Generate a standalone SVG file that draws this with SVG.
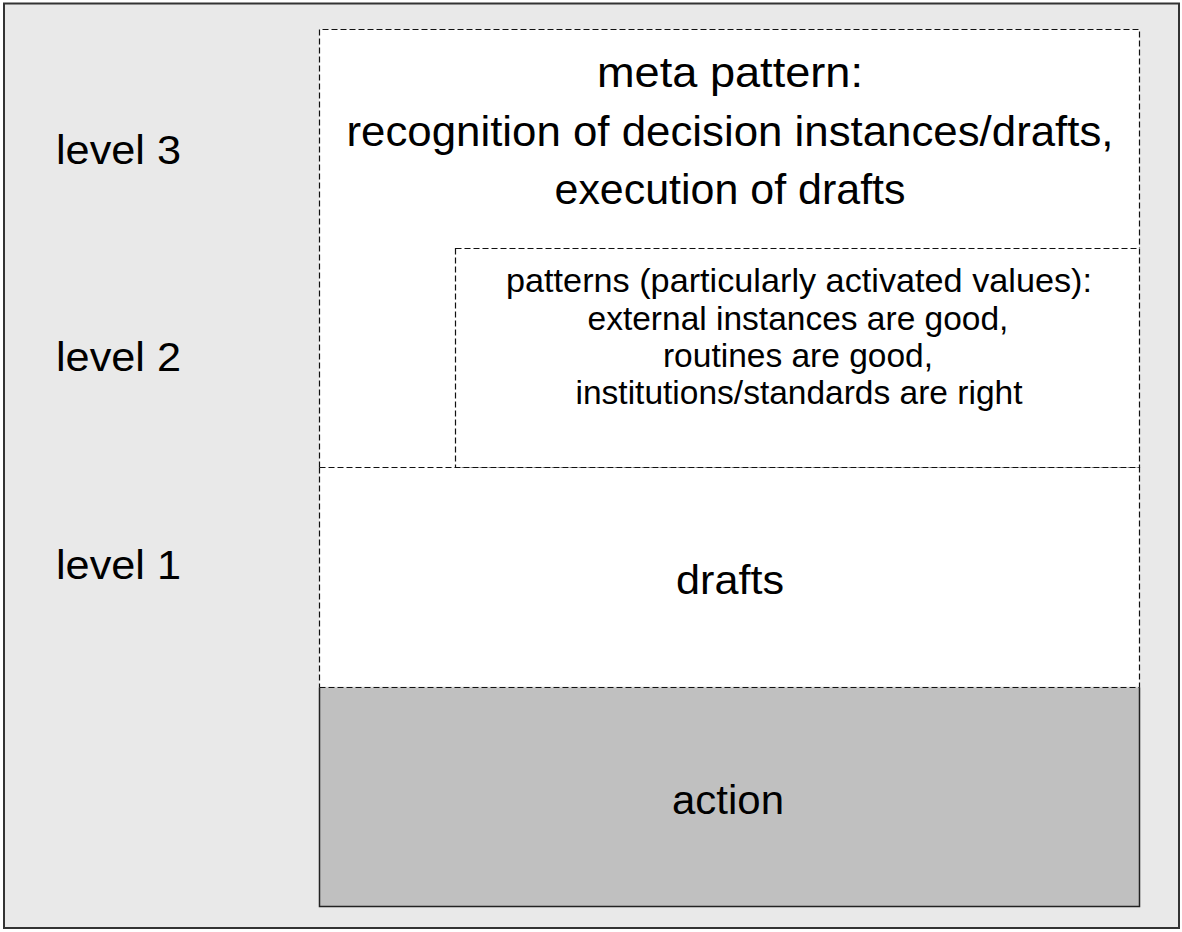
<svg xmlns="http://www.w3.org/2000/svg" width="1182" height="932" viewBox="0 0 1182 932">
<style>
.t{font-family:"Liberation Sans",Arial,sans-serif;fill:#000}
.dash{fill:none;stroke:#111;stroke-width:1.2;stroke-dasharray:6 3}
.lvl{font-size:40px}
.meta{font-size:43px;text-anchor:middle}
.pat{font-size:33.5px;text-anchor:middle}
.big{font-size:41px;text-anchor:middle}
</style>
<rect id="frame" x="4" y="3.5" width="1175" height="924.5" fill="#e9e9e9" stroke="#333" stroke-width="2"/>
<g id="levels">
<text class="t lvl" x="56" y="164" textLength="125" lengthAdjust="spacingAndGlyphs">level 3</text>
<text class="t lvl" x="56" y="371" textLength="125" lengthAdjust="spacingAndGlyphs">level 2</text>
<text class="t lvl" x="56" y="579" textLength="125" lengthAdjust="spacingAndGlyphs">level 1</text>
</g>
<g id="meta">
<rect x="319.5" y="29.5" width="820" height="438" fill="#fff"/>
<path class="dash" d="M319.5 467.5V29.5H1139.5V248"/>
<text class="t meta" x="730" y="87" textLength="266" lengthAdjust="spacingAndGlyphs">meta pattern:</text>
<text class="t meta" x="730" y="146" textLength="767" lengthAdjust="spacingAndGlyphs">recognition of decision instances/drafts,</text>
<text class="t meta" x="730" y="204" textLength="351" lengthAdjust="spacingAndGlyphs">execution of drafts</text>
</g>
<g id="patterns">
<rect class="dash" x="455.5" y="248.5" width="684" height="219"/>
<text class="t pat" x="799" y="292" textLength="586" lengthAdjust="spacingAndGlyphs">patterns (particularly activated values):</text>
<text class="t pat" x="798" y="329.5">external instances are good,</text>
<text class="t pat" x="798" y="366.5">routines are good,</text>
<text class="t pat" x="799" y="403.5">institutions/standards are right</text>
</g>
<g id="drafts">
<rect x="319.5" y="467.5" width="820" height="219" fill="#fff"/>
<path class="dash" d="M319.5 467.5H1139.5V687.5M319.5 467.5V687.5"/>
<text class="t big" x="730" y="594" textLength="108" lengthAdjust="spacingAndGlyphs">drafts</text>
</g>
<g id="action">
<rect x="319.5" y="687.5" width="820" height="219" fill="#c0c0c0"/>
<path d="M319.5 687.5V906.5H1139.5V687.5" fill="none" stroke="#222" stroke-width="1.5"/>
<path class="dash" d="M319.5 687.5H1139.5"/>
<text class="t big" x="728" y="814" textLength="112" lengthAdjust="spacingAndGlyphs">action</text>
</g>
</svg>
